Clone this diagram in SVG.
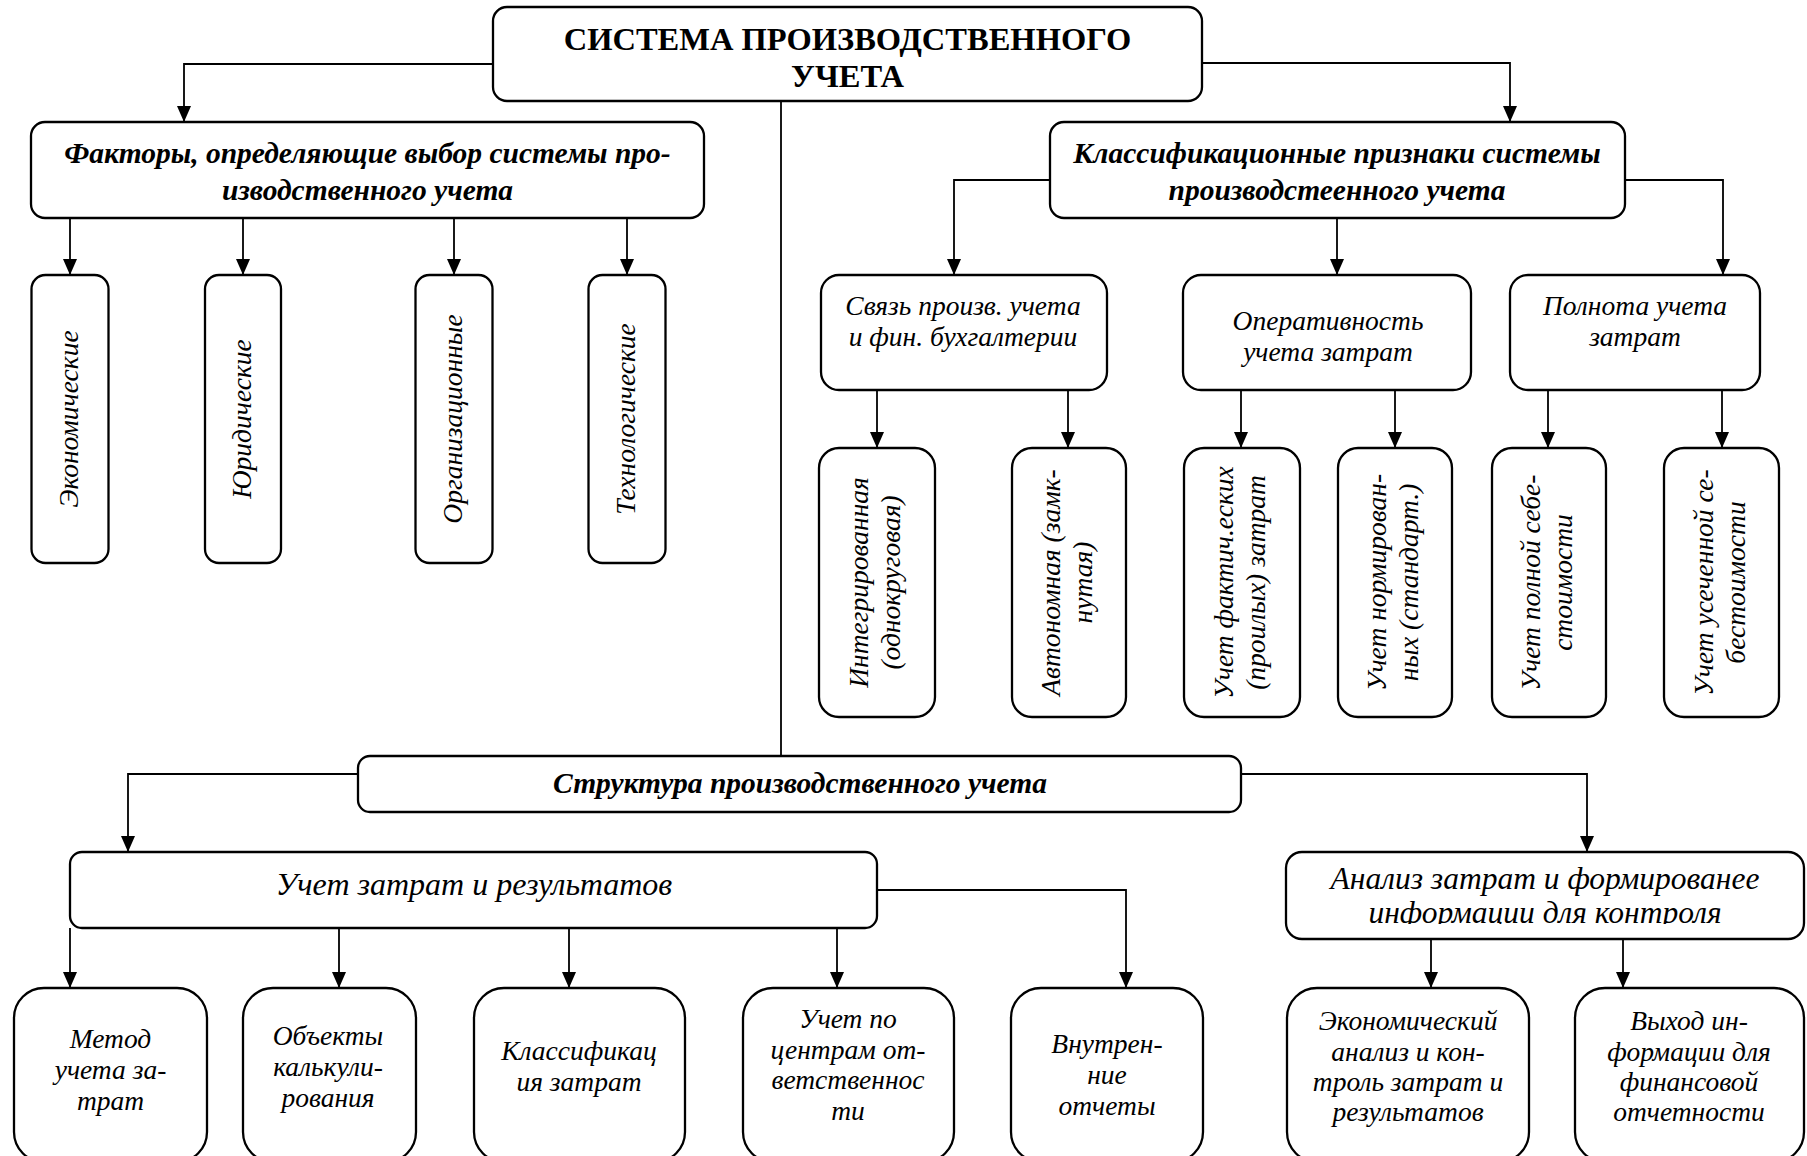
<svg xmlns="http://www.w3.org/2000/svg" width="1807" height="1156" viewBox="0 0 1807 1156">
<style>
.box{fill:#fff;stroke:#000;stroke-width:2.3}
.c{fill:none;stroke:#000;stroke-width:1.8}
.t{font-family:"Liberation Serif","Times New Roman",serif;font-style:italic;font-size:27.5px;text-anchor:middle;fill:#000}
.b{font-weight:bold;font-size:29.5px}
.h{font-size:32px}
.h2{font-size:31.5px}
.title{font-family:"Liberation Serif","Times New Roman",serif;font-weight:bold;font-size:32.5px;text-anchor:middle;fill:#000}
</style>
<defs>
<marker id="ah" markerWidth="16" markerHeight="14" refX="16" refY="7" orient="auto" markerUnits="userSpaceOnUse"><path d="M0,0 L16,7 L0,14 z" fill="#000"/></marker>
<clipPath id="clipA"><rect x="1286" y="852" width="518" height="72"/></clipPath>
</defs>
<rect width="1807" height="1156" fill="#fff"/>
<g id="connectors">
<polyline class="c" points="493,64 184,64 184,122" marker-end="url(#ah)"/>
<polyline class="c" points="1202,63 1510,63 1510,122" marker-end="url(#ah)"/>
<line class="c" x1="781" y1="101" x2="781" y2="756"/>
<line class="c" x1="70" y1="218" x2="70" y2="275" marker-end="url(#ah)"/>
<line class="c" x1="243" y1="218" x2="243" y2="275" marker-end="url(#ah)"/>
<line class="c" x1="454" y1="218" x2="454" y2="275" marker-end="url(#ah)"/>
<line class="c" x1="627" y1="218" x2="627" y2="275" marker-end="url(#ah)"/>
<polyline class="c" points="1050,180 954,180 954,275" marker-end="url(#ah)"/>
<line class="c" x1="1337" y1="218" x2="1337" y2="275" marker-end="url(#ah)"/>
<polyline class="c" points="1625,180 1723,180 1723,275" marker-end="url(#ah)"/>
<line class="c" x1="877" y1="390" x2="877" y2="448" marker-end="url(#ah)"/>
<line class="c" x1="1068" y1="390" x2="1068" y2="448" marker-end="url(#ah)"/>
<line class="c" x1="1241" y1="390" x2="1241" y2="448" marker-end="url(#ah)"/>
<line class="c" x1="1395" y1="390" x2="1395" y2="448" marker-end="url(#ah)"/>
<line class="c" x1="1548" y1="390" x2="1548" y2="448" marker-end="url(#ah)"/>
<line class="c" x1="1722" y1="390" x2="1722" y2="448" marker-end="url(#ah)"/>
<polyline class="c" points="358,774 128,774 128,852" marker-end="url(#ah)"/>
<polyline class="c" points="1241,774 1587,774 1587,852" marker-end="url(#ah)"/>
<line class="c" x1="70" y1="928" x2="70" y2="988" marker-end="url(#ah)"/>
<line class="c" x1="339" y1="928" x2="339" y2="988" marker-end="url(#ah)"/>
<line class="c" x1="569" y1="928" x2="569" y2="988" marker-end="url(#ah)"/>
<line class="c" x1="837" y1="928" x2="837" y2="988" marker-end="url(#ah)"/>
<polyline class="c" points="877,890 1126,890 1126,988" marker-end="url(#ah)"/>
<line class="c" x1="1431" y1="939" x2="1431" y2="988" marker-end="url(#ah)"/>
<line class="c" x1="1623" y1="939" x2="1623" y2="988" marker-end="url(#ah)"/>
</g>
<g id="root"><rect class="box" x="493" y="7" width="709" height="94" rx="14"/>
<text class="title" x="847.5" y="50">СИСТЕМА ПРОИЗВОДСТВЕННОГО</text>
<text class="title" x="847.5" y="87">УЧЕТА</text></g>
<g id="factors"><rect class="box" x="31" y="122" width="673" height="96" rx="14"/>
<text class="t b" x="367.5" y="163">Факторы, определяющие выбор системы про-</text>
<text class="t b" x="367.5" y="200">изводственного учета</text></g>
<g id="classif"><rect class="box" x="1050" y="122" width="575" height="96" rx="14"/>
<text class="t b" x="1337" y="163">Классификационные признаки системы</text>
<text class="t b" x="1337" y="200">производстеенного учета</text></g>
<g id="f1"><rect class="box" x="31.5" y="275" width="77" height="288" rx="14"/>
<text class="t" transform="translate(70,419) rotate(-90)" y="8">Экономические</text></g>
<g id="f2"><rect class="box" x="205" y="275" width="76" height="288" rx="14"/>
<text class="t" transform="translate(243,419) rotate(-90)" y="8">Юридические</text></g>
<g id="f3"><rect class="box" x="415.5" y="275" width="77" height="288" rx="14"/>
<text class="t" transform="translate(454,419) rotate(-90)" y="8">Организационные</text></g>
<g id="f4"><rect class="box" x="588.5" y="275" width="77" height="288" rx="14"/>
<text class="t" transform="translate(627,419) rotate(-90)" y="8">Технологические</text></g>
<g id="link"><rect class="box" x="821" y="275" width="286" height="115" rx="18"/>
<text class="t" x="963" y="315">Связь произв. учета</text>
<text class="t" x="963" y="346">и фин. бухгалтерии</text></g>
<g id="oper"><rect class="box" x="1183" y="275" width="288" height="115" rx="18"/>
<text class="t" x="1328" y="330">Оперативность</text>
<text class="t" x="1328" y="361">учета затрат</text></g>
<g id="full"><rect class="box" x="1510" y="275" width="250" height="115" rx="18"/>
<text class="t" x="1635" y="315">Полнота учета</text>
<text class="t" x="1635" y="346">затрат</text></g>
<g id="c1"><rect class="box" x="819" y="448" width="116" height="269" rx="20"/>
<text class="t" transform="translate(877,582.5) rotate(-90)"><tspan x="0" y="-9">Интегрированная</tspan><tspan x="0" y="23">(однокруговая)</tspan></text></g>
<g id="c2"><rect class="box" x="1012" y="448" width="114" height="269" rx="20"/>
<text class="t" transform="translate(1069,582.5) rotate(-90)"><tspan x="0" y="-9">Автономная (замк-</tspan><tspan x="0" y="23">нутая)</tspan></text></g>
<g id="c3"><rect class="box" x="1184" y="448" width="116" height="269" rx="20"/>
<text class="t" transform="translate(1242,582.5) rotate(-90)"><tspan x="0" y="-9">Учет фактич.еских</tspan><tspan x="0" y="23">(проилых) затрат</tspan></text></g>
<g id="c4"><rect class="box" x="1338" y="448" width="114" height="269" rx="20"/>
<text class="t" transform="translate(1395,582.5) rotate(-90)"><tspan x="0" y="-9">Учет нормирован-</tspan><tspan x="0" y="23">ных (стандарт.)</tspan></text></g>
<g id="c5"><rect class="box" x="1492" y="448" width="114" height="269" rx="20"/>
<text class="t" transform="translate(1549,582.5) rotate(-90)"><tspan x="0" y="-9">Учет полной себе-</tspan><tspan x="0" y="23">стоимости</tspan></text></g>
<g id="c6"><rect class="box" x="1664" y="448" width="115" height="269" rx="20"/>
<text class="t" transform="translate(1721.5,582.5) rotate(-90)"><tspan x="0" y="-9">Учет усеченной се-</tspan><tspan x="0" y="23">бестоимости</tspan></text></g>
<g id="struct"><rect class="box" x="358" y="756" width="883" height="56" rx="12"/>
<text class="t b" x="800" y="793">Структура производственного учета</text></g>
<g id="costs"><rect class="box" x="70" y="852" width="807" height="76" rx="12"/>
<text class="t h" x="474" y="895">Учет затрат и результатов</text></g>
<g id="analysis"><rect class="box" x="1286" y="852" width="518" height="87" rx="16"/>
<g clip-path="url(#clipA)"><text class="t h2" x="1545" y="889">Анализ затрат и формированее</text>
<text class="t h2" x="1545" y="923">информации для контроля</text></g></g>
<g id="b1"><rect class="box" x="14" y="988" width="193" height="174" rx="30"/>
<text class="t"><tspan x="110.5" y="1048">Метод</tspan><tspan x="110.5" y="1079">учета за-</tspan><tspan x="110.5" y="1110">трат</tspan></text></g>
<g id="b2"><rect class="box" x="243" y="988" width="173" height="174" rx="30"/>
<text class="t"><tspan x="328" y="1045">Объекты</tspan><tspan x="328" y="1076">калькули-</tspan><tspan x="328" y="1107">рования</tspan></text></g>
<g id="b3"><rect class="box" x="474" y="988" width="211" height="174" rx="30"/>
<text class="t"><tspan x="579" y="1060">Классификац</tspan><tspan x="579" y="1091">ия затрат</tspan></text></g>
<g id="b4"><rect class="box" x="743" y="988" width="211" height="174" rx="30"/>
<text class="t"><tspan x="848" y="1028">Учет по</tspan><tspan x="848" y="1058.5">центрам от-</tspan><tspan x="848" y="1089">ветственнос</tspan><tspan x="848" y="1120">ти</tspan></text></g>
<g id="b5"><rect class="box" x="1011" y="988" width="192" height="174" rx="30"/>
<text class="t"><tspan x="1107" y="1053">Внутрен-</tspan><tspan x="1107" y="1084">ние</tspan><tspan x="1107" y="1115">отчеты</tspan></text></g>
<g id="b6"><rect class="box" x="1287" y="988" width="242" height="174" rx="30"/>
<text class="t"><tspan x="1408" y="1030">Экономический</tspan><tspan x="1408" y="1061">анализ и кон-</tspan><tspan x="1408" y="1091">троль затрат и</tspan><tspan x="1408" y="1121">результатов</tspan></text></g>
<g id="b7"><rect class="box" x="1575" y="988" width="229" height="174" rx="30"/>
<text class="t"><tspan x="1689" y="1030">Выход ин-</tspan><tspan x="1689" y="1061">формации для</tspan><tspan x="1689" y="1091">финансовой</tspan><tspan x="1689" y="1121">отчетности</tspan></text></g>
</svg>
